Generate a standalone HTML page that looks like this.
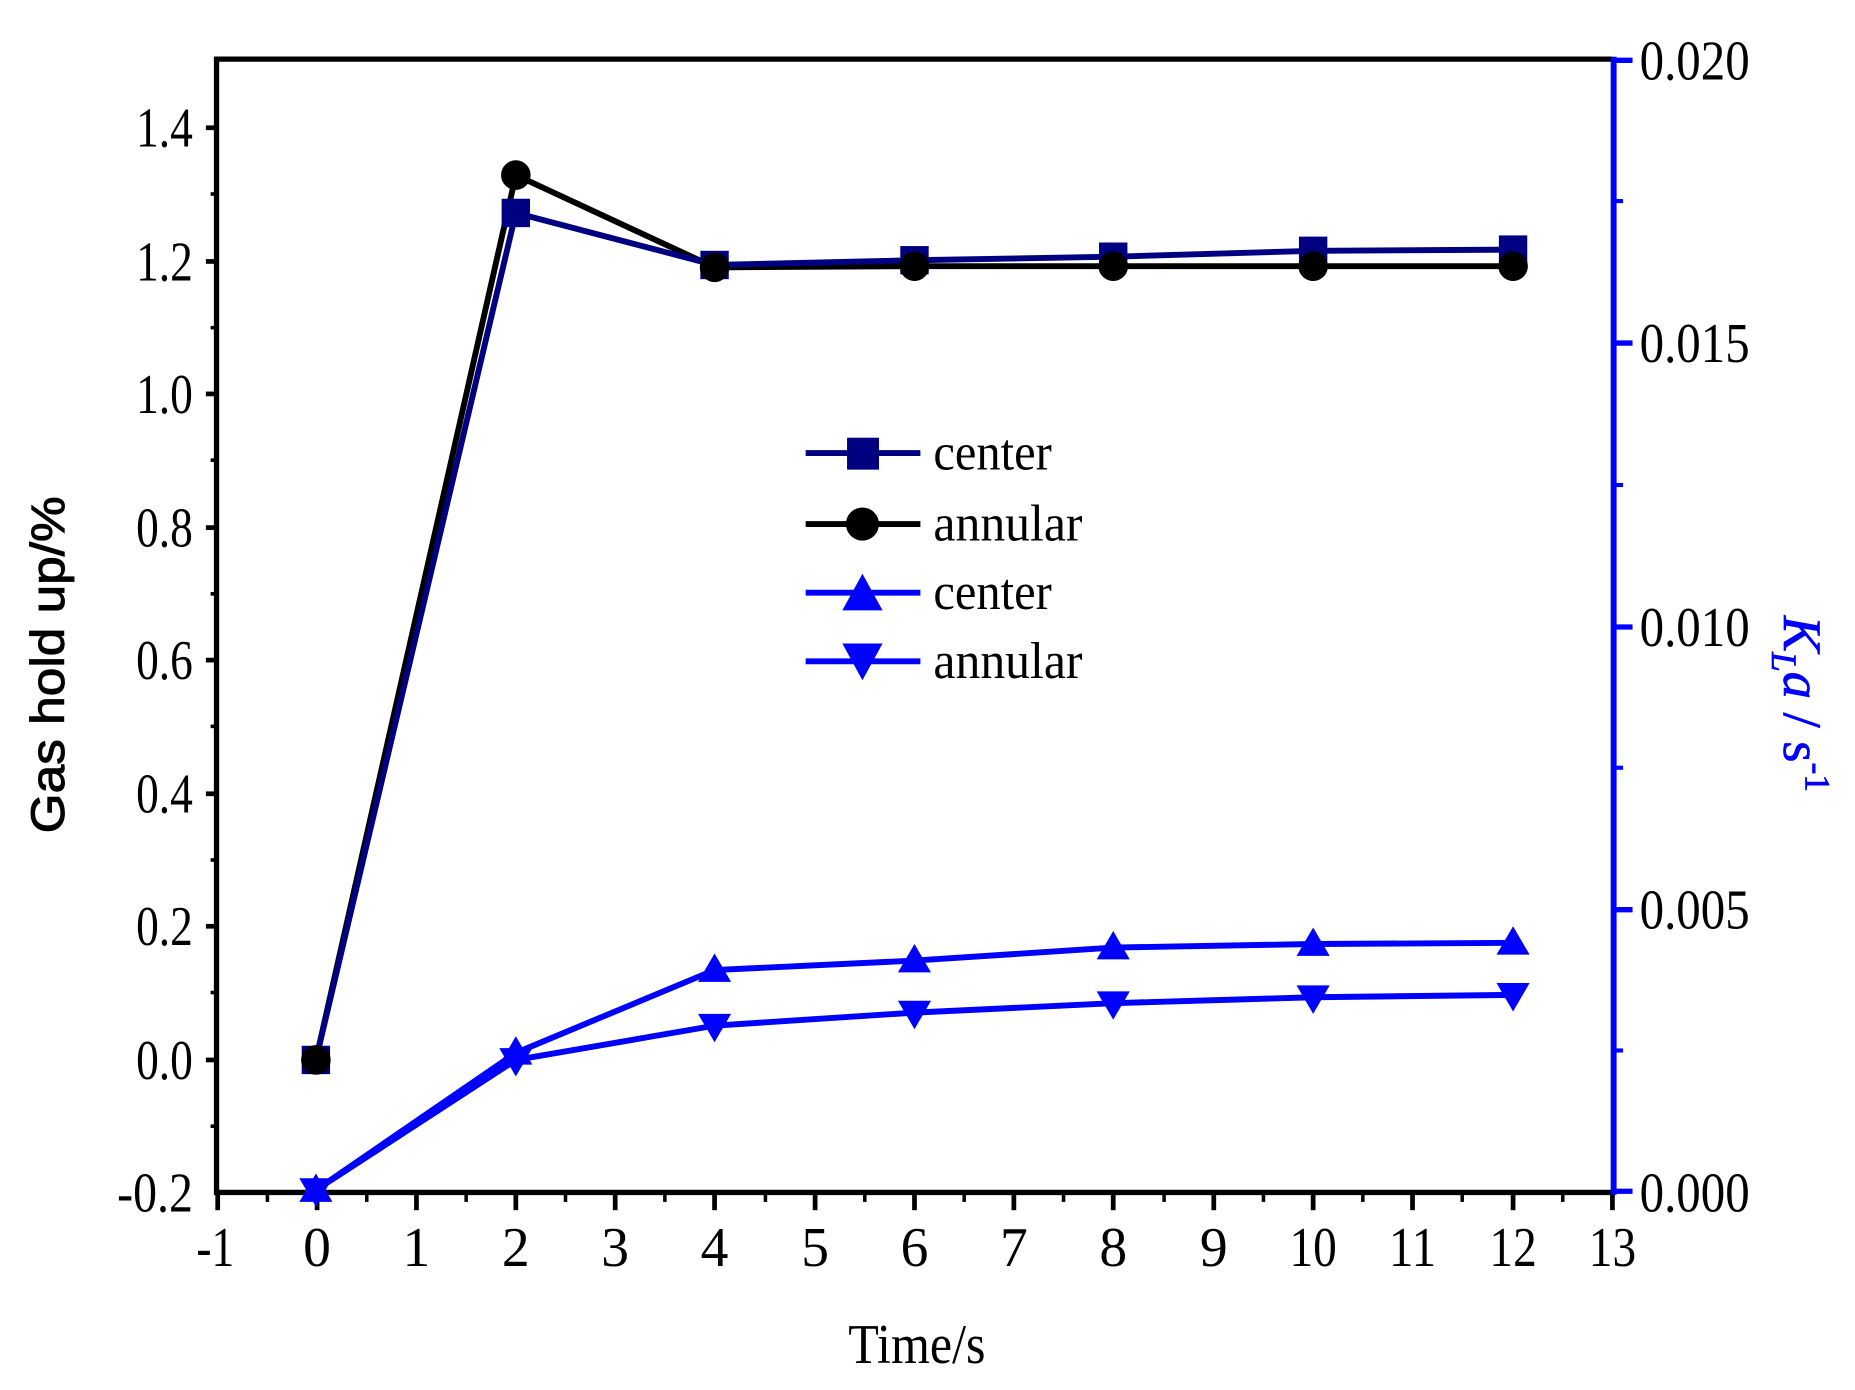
<!DOCTYPE html>
<html><head><meta charset="utf-8"><style>html,body{margin:0;padding:0;background:#fff}svg{display:block}</style></head>
<body>
<svg width="1855" height="1390" viewBox="0 0 1568 1175" xmlns="http://www.w3.org/2000/svg" font-family="Liberation Serif, serif">
<rect width="1568" height="1175" fill="#fff"/>
<g stroke="#000" stroke-width="4.5">
<line x1="181" y1="50" x2="1363" y2="50"/>
<line x1="183" y1="48" x2="183" y2="1010"/>
<line x1="181" y1="1008" x2="1363" y2="1008"/>
</g>
<g stroke="#000" stroke-width="4">
<line x1="174" y1="108" x2="183" y2="108"/><line x1="174" y1="221" x2="183" y2="221"/><line x1="174" y1="333" x2="183" y2="333"/><line x1="174" y1="446" x2="183" y2="446"/><line x1="174" y1="558" x2="183" y2="558"/><line x1="174" y1="671" x2="183" y2="671"/><line x1="174" y1="783" x2="183" y2="783"/><line x1="174" y1="896" x2="183" y2="896"/>
</g>
<g stroke="#000" stroke-width="3">
<line x1="178" y1="164" x2="183" y2="164"/><line x1="178" y1="277" x2="183" y2="277"/><line x1="178" y1="389" x2="183" y2="389"/><line x1="178" y1="502" x2="183" y2="502"/><line x1="178" y1="614" x2="183" y2="614"/><line x1="178" y1="727" x2="183" y2="727"/><line x1="178" y1="839" x2="183" y2="839"/><line x1="178" y1="952" x2="183" y2="952"/>
</g>
<g stroke="#000" stroke-width="4">
<line x1="184" y1="1008" x2="184" y2="1023"/><line x1="268" y1="1008" x2="268" y2="1023"/><line x1="352" y1="1008" x2="352" y2="1023"/><line x1="436" y1="1008" x2="436" y2="1023"/><line x1="520" y1="1008" x2="520" y2="1023"/><line x1="604" y1="1008" x2="604" y2="1023"/><line x1="689" y1="1008" x2="689" y2="1023"/><line x1="773" y1="1008" x2="773" y2="1023"/><line x1="857" y1="1008" x2="857" y2="1023"/><line x1="941" y1="1008" x2="941" y2="1023"/><line x1="1026" y1="1008" x2="1026" y2="1023"/><line x1="1110" y1="1008" x2="1110" y2="1023"/><line x1="1194" y1="1008" x2="1194" y2="1023"/><line x1="1279" y1="1008" x2="1279" y2="1023"/><line x1="1363" y1="1008" x2="1363" y2="1023"/>
</g>
<g stroke="#000" stroke-width="3">
<line x1="226" y1="1008" x2="226" y2="1016"/><line x1="310" y1="1008" x2="310" y2="1016"/><line x1="394" y1="1008" x2="394" y2="1016"/><line x1="478" y1="1008" x2="478" y2="1016"/><line x1="562" y1="1008" x2="562" y2="1016"/><line x1="647" y1="1008" x2="647" y2="1016"/><line x1="731" y1="1008" x2="731" y2="1016"/><line x1="815" y1="1008" x2="815" y2="1016"/><line x1="899" y1="1008" x2="899" y2="1016"/><line x1="984" y1="1008" x2="984" y2="1016"/><line x1="1068" y1="1008" x2="1068" y2="1016"/><line x1="1152" y1="1008" x2="1152" y2="1016"/><line x1="1236" y1="1008" x2="1236" y2="1016"/><line x1="1321" y1="1008" x2="1321" y2="1016"/>
</g>
<!-- right axis -->
<g stroke="#0000ff">
<line x1="1364" y1="48" x2="1364" y2="1010" stroke-width="5"/>
<g stroke-width="4.5"><line x1="1364" y1="51" x2="1380" y2="51"/><line x1="1364" y1="290" x2="1380" y2="290"/><line x1="1364" y1="530" x2="1380" y2="530"/><line x1="1364" y1="769" x2="1380" y2="769"/><line x1="1364" y1="1007" x2="1380" y2="1007"/></g>
<g stroke-width="3.5"><line x1="1364" y1="170" x2="1372" y2="170"/><line x1="1364" y1="410" x2="1372" y2="410"/><line x1="1364" y1="649" x2="1372" y2="649"/><line x1="1364" y1="888" x2="1372" y2="888"/></g>
</g>
<!-- tick labels -->
<g font-size="47" fill="#000" text-anchor="end" lengthAdjust="spacingAndGlyphs">
<text x="163" y="124" textLength="48" lengthAdjust="spacingAndGlyphs">1.4</text><text x="163" y="237" textLength="48" lengthAdjust="spacingAndGlyphs">1.2</text><text x="163" y="349" textLength="48" lengthAdjust="spacingAndGlyphs">1.0</text><text x="163" y="462" textLength="48" lengthAdjust="spacingAndGlyphs">0.8</text><text x="163" y="574" textLength="48" lengthAdjust="spacingAndGlyphs">0.6</text><text x="163" y="687" textLength="48" lengthAdjust="spacingAndGlyphs">0.4</text><text x="163" y="799" textLength="48" lengthAdjust="spacingAndGlyphs">0.2</text><text x="163" y="912" textLength="48" lengthAdjust="spacingAndGlyphs">0.0</text><text x="163" y="1024" textLength="64" lengthAdjust="spacingAndGlyphs">-0.2</text>
</g>
<g font-size="47" fill="#000">
<text x="1386" y="67" textLength="93" lengthAdjust="spacingAndGlyphs">0.020</text><text x="1386" y="306" textLength="93" lengthAdjust="spacingAndGlyphs">0.015</text><text x="1386" y="546" textLength="93" lengthAdjust="spacingAndGlyphs">0.010</text><text x="1386" y="785" textLength="93" lengthAdjust="spacingAndGlyphs">0.005</text><text x="1386" y="1024" textLength="93" lengthAdjust="spacingAndGlyphs">0.000</text>
</g>
<g font-size="47" fill="#000" text-anchor="middle">
<text x="182" y="1070" textLength="32" lengthAdjust="spacingAndGlyphs">-1</text><text x="268" y="1070">0</text><text x="352" y="1070">1</text><text x="436" y="1070">2</text><text x="520" y="1070">3</text><text x="604" y="1070">4</text><text x="689" y="1070">5</text><text x="773" y="1070">6</text><text x="857" y="1070">7</text><text x="941" y="1070">8</text><text x="1026" y="1070">9</text><text x="1110" y="1070" textLength="40" lengthAdjust="spacingAndGlyphs">10</text><text x="1194" y="1070" textLength="40" lengthAdjust="spacingAndGlyphs">11</text><text x="1279" y="1070" textLength="40" lengthAdjust="spacingAndGlyphs">12</text><text x="1363" y="1070" textLength="40" lengthAdjust="spacingAndGlyphs">13</text>
</g>
<text x="775" y="1152" font-size="47" text-anchor="middle" textLength="116" lengthAdjust="spacingAndGlyphs">Time/s</text>
<text transform="translate(54,562) rotate(-90)" font-family="Liberation Sans, sans-serif" font-size="40" stroke="#000" stroke-width="0.8" text-anchor="middle" textLength="285" lengthAdjust="spacingAndGlyphs">Gas hold up/%</text>
<text transform="translate(1508,595) rotate(90)" font-size="46" fill="#0000ff" stroke="#0000ff" stroke-width="0.6" text-anchor="middle"><tspan font-style="italic">K</tspan><tspan font-style="italic" font-size="30" dy="10">L</tspan><tspan font-style="italic" dy="-10">a</tspan> / s<tspan font-size="30" dy="-18">-1</tspan></text>
<!-- series -->
<polyline fill="none" stroke="#000" stroke-width="5" points="267,896 436,148 604,226 773,225 941,225 1110,225 1279,225"/>
<polyline fill="none" stroke="#000080" stroke-width="5" points="267,896 436,180 604,224 773,220 941,217 1110,212 1279,211"/>
<polyline fill="none" stroke="#0000ff" stroke-width="5" points="267,1006 436,890 604,820 773,812 941,801 1110,798 1279,797"/>
<polyline fill="none" stroke="#0000ff" stroke-width="5" points="267,1006 436,896 604,867 773,856 941,848 1110,843 1279,841"/>
<g fill="#000080">
<rect x="255" y="884" width="24" height="24"/><rect x="424" y="168" width="24" height="24"/><rect x="592" y="212" width="24" height="24"/><rect x="761" y="208" width="24" height="24"/><rect x="929" y="205" width="24" height="24"/><rect x="1098" y="200" width="24" height="24"/><rect x="1267" y="199" width="24" height="24"/>
</g>
<g fill="#000">
<circle cx="267" cy="896" r="12.5"/><circle cx="436" cy="148" r="12.5"/><circle cx="604" cy="226" r="12.5"/><circle cx="773" cy="225" r="12.5"/><circle cx="941" cy="225" r="12.5"/><circle cx="1110" cy="225" r="12.5"/><circle cx="1279" cy="225" r="12.5"/>
</g>
<g fill="#0000ff">
<path d="M267,992 l14,24 h-28z M436,876 l14,24 h-28z M604,806 l14,24 h-28z M773,798 l14,24 h-28z M941,787 l14,24 h-28z M1110,784 l14,24 h-28z M1279,783 l14,24 h-28z"/>
<path d="M267,1020 l14,-24 h-28z M436,910 l14,-24 h-28z M604,881 l14,-24 h-28z M773,870 l14,-24 h-28z M941,862 l14,-24 h-28z M1110,857 l14,-24 h-28z M1279,855 l14,-24 h-28z"/>
</g>
<!-- legend -->
<g stroke-width="5">
<line x1="681" y1="383" x2="778" y2="383" stroke="#000080"/>
<line x1="681" y1="443" x2="778" y2="443" stroke="#000"/>
<line x1="681" y1="501" x2="778" y2="501" stroke="#0000ff"/>
<line x1="681" y1="559" x2="778" y2="559" stroke="#0000ff"/>
</g>
<rect x="716" y="370" width="27" height="27" fill="#000080"/>
<circle cx="729" cy="443" r="14" fill="#000"/>
<path d="M729,485 l17,31 h-34z" fill="#0000ff"/>
<path d="M729,575 l17,-31 h-34z" fill="#0000ff"/>
<g font-size="44" fill="#000">
<text x="789" y="397" textLength="100" lengthAdjust="spacingAndGlyphs">center</text><text x="789" y="457" textLength="126" lengthAdjust="spacingAndGlyphs">annular</text><text x="789" y="515" textLength="100" lengthAdjust="spacingAndGlyphs">center</text><text x="789" y="573" textLength="126" lengthAdjust="spacingAndGlyphs">annular</text>
</g>
</svg>
</body></html>
